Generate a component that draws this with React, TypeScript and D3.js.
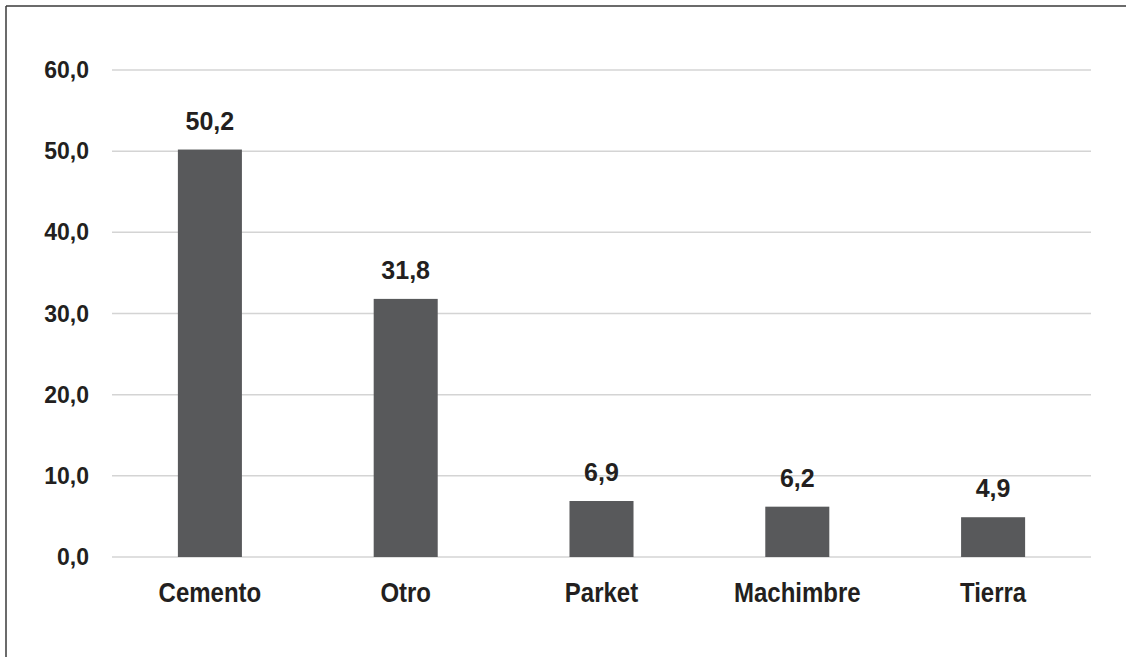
import * as d3 from "d3";
import {useEffect, useRef} from "react";

const categories = ["Cemento", "Otro", "Parket", "Machimbre", "Tierra"];
const values = [50.2, 31.8, 6.9, 6.2, 4.9];
const yTicks = [0, 10, 20, 30, 40, 50, 60];

const fmt = (v: number) => v.toFixed(1).replace(".", ",");

export default function App() {
    const svgRef = useRef(null);
    const width = 1126;
    const height = 657;
    const margin = {top: 70, right: 35, bottom: 100, left: 112};

    useEffect(() => {
        if (!svgRef.current) return;
        d3.select(svgRef.current).selectAll("*").remove();

        const svg = d3.select(svgRef.current);
        const font = "'Liberation Sans', Arial, sans-serif";
        const textColor = "#231f20";

        const x = d3.scaleBand()
            .domain(categories)
            .range([margin.left, width - margin.right])
            .paddingInner(0.673)
            .paddingOuter(0.3365);

        const y = d3.scaleLinear()
            .domain([0, 60])
            .range([height - margin.bottom, margin.top]);

        // frame (only top and left edges show)
        svg.append("line")
            .attr("x1", 6).attr("x2", width)
            .attr("y1", 6).attr("y2", 6)
            .attr("stroke", "#3a3a3a").attr("stroke-width", 1.5);
        svg.append("line")
            .attr("x1", 6).attr("x2", 6)
            .attr("y1", 6).attr("y2", height)
            .attr("stroke", "#3a3a3a").attr("stroke-width", 1.5);

        // gridlines
        svg.append("g")
            .selectAll("line")
            .data(yTicks)
            .join("line")
            .attr("x1", margin.left)
            .attr("x2", width - margin.right)
            .attr("y1", d => y(d))
            .attr("y2", d => y(d))
            .attr("stroke", "#d4d4d4")
            .attr("stroke-width", 1.5);

        // y tick labels
        svg.append("g")
            .selectAll("text")
            .data(yTicks)
            .join("text")
            .attr("x", 89)
            .attr("y", d => y(d))
            .attr("dy", "0.35em")
            .attr("text-anchor", "end")
            .attr("font-family", font)
            .attr("font-weight", "bold")
            .attr("font-size", 23)
            .attr("fill", textColor)
            .text(d => fmt(d));

        // bars
        svg.append("g")
            .selectAll("rect")
            .data(values)
            .join("rect")
            .attr("x", (d, i) => x(categories[i])!)
            .attr("y", d => y(d))
            .attr("width", x.bandwidth())
            .attr("height", d => y(0) - y(d))
            .attr("fill", "#58595b");

        // value labels
        svg.append("g")
            .selectAll("text")
            .data(values)
            .join("text")
            .attr("x", (d, i) => x(categories[i])! + x.bandwidth() / 2)
            .attr("y", d => y(d) - 20)
            .attr("text-anchor", "middle")
            .attr("font-family", font)
            .attr("font-weight", "bold")
            .attr("font-size", 25)
            .attr("fill", textColor)
            .text(d => fmt(d));

        // category labels (condensed look)
        svg.append("g")
            .selectAll("text")
            .data(categories)
            .join("text")
            .attr("transform", d => `translate(${x(d)! + x.bandwidth() / 2},602) scale(0.857,1)`)
            .attr("text-anchor", "middle")
            .attr("font-family", font)
            .attr("font-weight", "bold")
            .attr("font-size", 28)
            .attr("fill", textColor)
            .text(d => d);
    }, []);

    return (
        <svg ref={svgRef} width={width} height={height}
             style={{position: "absolute", left: 0, top: 0, background: "#fff"}}></svg>
    );
}
